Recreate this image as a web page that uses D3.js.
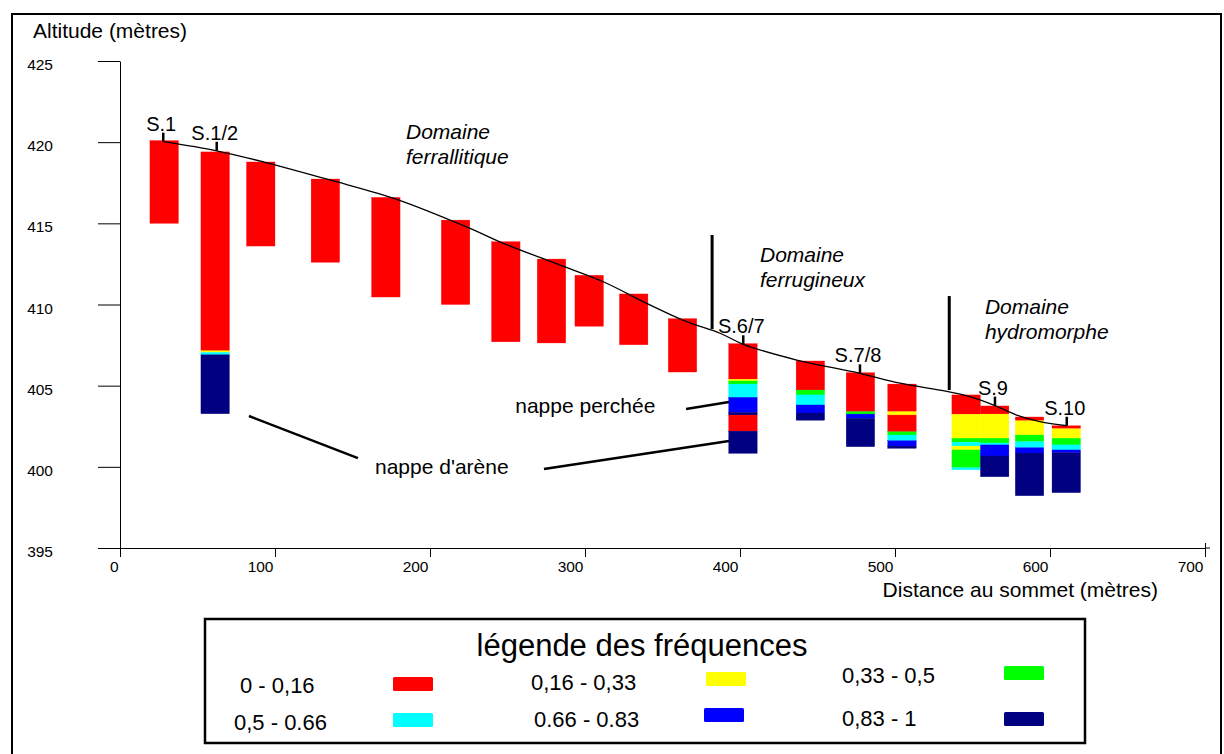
<!DOCTYPE html>
<html><head><meta charset="utf-8">
<script src="https://cdn.jsdelivr.net/npm/d3@7"></script>
<style>body{margin:0;background:#fff}svg{display:block;font-family:"Liberation Sans",Arial,sans-serif}</style>
</head><body><svg id="c" width="1224" height="754"></svg>
<script>
// ---- data ----
const yTicks = [395, 400, 405, 410, 415, 420, 425];
const xTicks = [0, 100, 200, 300, 400, 500, 600, 700];
const freqClasses = ["0 - 0,16", "0,16 - 0,33", "0,33 - 0,5", "0,5 - 0.66", "0.66 - 0.83", "0,83 - 1"];
const freqColors = ["#ff0000", "#ffff00", "#00ff00", "#00ffff", "#0000ff", "#000080"];

const profileDist = [27.9, 62.4, 93.5, 135.5, 178.5, 225.8, 247.3, 283.9, 311.8, 339.8, 365.6, 387.1, 402.1, 436.6, 477.4, 503.2, 529, 548.4, 564.5, 578.5, 593.5, 610.8];
const profileAlt  = [420.03, 419.47, 418.76, 417.67, 416.48, 414.69, 413.77, 412.43, 411.40, 410.07, 408.94, 408.23, 407.55, 406.58, 405.76, 405.15, 404.73, 404.32, 403.77, 403.19, 402.78, 402.53];

const colDist = [28.5, 61.4, 90.8, 132.5, 171.5, 216.5, 248.9, 278.4, 302.7, 331.4, 362.9, 401.9, 445.4, 477.7, 504.5, 545.9, 564.3, 586.8, 610.5];
const colTop  = [420.1, 419.4, 418.78, 417.73, 416.6, 415.2, 413.87, 412.8, 411.8, 410.65, 409.13, 407.59, 406.52, 405.8, 405.1, 404.43, 403.75, 403.07, 402.53];
// each layer: [frequency class index, bottom altitude]
const colLayers = [
  [[0, 415.0]],
  [[0, 407.15], [1, 407.05], [3, 406.9], [5, 403.27]],
  [[0, 413.6]],
  [[0, 412.6]],
  [[0, 410.46]],
  [[0, 410.0]],
  [[0, 407.7]],
  [[0, 407.63]],
  [[0, 408.66]],
  [[0, 407.52]],
  [[0, 405.84]],
  [[0, 405.39], [1, 405.29], [2, 405.1], [3, 404.28], [4, 403.36], [5, 403.19], [0, 402.2], [5, 400.83]],
  [[0, 404.73], [2, 404.43], [3, 403.81], [4, 403.32], [5, 402.87]],
  [[0, 403.4], [2, 403.25], [4, 402.99], [5, 401.24]],
  [[0, 403.4], [1, 403.19], [0, 402.16], [2, 401.96], [3, 401.61], [4, 401.28], [5, 401.14]],
  [[0, 403.24], [1, 401.76], [2, 401.51], [3, 401.28], [1, 401.04], [2, 399.95], [3, 399.82]],
  [[0, 403.25], [1, 401.76], [2, 401.47], [3, 401.35], [4, 400.67], [5, 399.39]],
  [[0, 402.84], [1, 401.96], [2, 401.55], [3, 401.18], [4, 400.85], [5, 398.22]],
  [[0, 402.35], [1, 401.76], [2, 401.35], [3, 401.04], [4, 400.87], [5, 398.41]]
];

const siteNames = ["S.1", "S.1/2", "S.6/7", "S.7/8", "S.9", "S.10"];
const siteDist  = [27.9, 62.4, 402.1, 477.4, 564.5, 610.8];
const siteAlt   = [420.03, 419.47, 407.55, 405.76, 403.77, 402.53];

const domainLines = [["Domaine", "ferrallitique"], ["Domaine", "ferrugineux"], ["Domaine", "hydromorphe"]];
const domainDist  = [184.5, 412.9, 558];
const domainAlt   = [420.2, 412.62, 409.42];
const boundaryDist   = [382, 535];
const boundaryTop    = [414.28, 410.52];
const boundaryBottom = [408.49, 404.73];

const nappeLabels = ["nappe perchée", "nappe d'arène"];
const nappeLabelDist = [255, 164.5];
const nappeLabelAlt  = [403.32, 399.56];
const nappeSegments = [
  [[365.2, 403.56], [392.9, 404.0]],
  [[83.2, 403.13], [153.5, 400.54]],
  [[273.5, 399.87], [392.9, 401.59]]
];

// ---- drawing ----
const svg = d3.select("#c");
const x = d3.scaleLinear().domain([0, 700]).range([120, 1205]);
const y = d3.scaleLinear().domain([395, 425]).range([548, 61]);
const barW = 28.5;

// outer frame
svg.append("rect").attr("x", 12).attr("y", 14).attr("width", 1209).attr("height", 760)
  .attr("fill", "none").attr("stroke", "#000").attr("stroke-width", 2);

// axes
const gy = svg.append("g").attr("transform", `translate(${x(0)},0)`)
  .call(d3.axisLeft(y).tickValues(yTicks).tickSize(22).tickSizeOuter(0).tickPadding(45).tickFormat(d3.format("d")));
gy.selectAll("text").attr("font-size", 15.5).attr("font-family", "Liberation Sans, Arial").attr("fill", "#000").attr("dy", "0.55em");
gy.selectAll("line,path").attr("stroke", "#000");

const gx = svg.append("g").attr("transform", `translate(0,${y(395)})`)
  .call(d3.axisBottom(x).tickValues(xTicks).tickSize(9).tickSizeOuter(0).tickFormat(d3.format("d")));
gx.selectAll("text").attr("font-size", 15.5).attr("font-family", "Liberation Sans, Arial").attr("fill", "#000")
  .attr("text-anchor", "end").attr("x", -2).attr("y", 13);
gx.selectAll("line,path").attr("stroke", "#000");
gx.append("line").attr("x1", x(700)).attr("x2", x(700) + 5).attr("stroke", "#000");
gx.select(".tick:last-of-type line").attr("y1", -5);

svg.append("text").attr("x", 33).attr("y", 38).attr("font-size", 21).text("Altitude (mètres)");
svg.append("text").attr("x", 1158).attr("y", 597).attr("font-size", 21).attr("text-anchor", "end").text("Distance au sommet (mètres)");

// columns
colLayers.forEach((layers, i) => {
  let top = colTop[i];
  const g = svg.append("g");
  layers.forEach(([cls, bottom]) => {
    g.append("rect")
      .attr("x", x(colDist[i]) - barW / 2)
      .attr("y", y(top))
      .attr("width", barW)
      .attr("height", y(bottom) - y(top))
      .attr("fill", freqColors[cls])
      .attr("stroke", freqColors[cls]).attr("stroke-width", 0.3);
    top = bottom;
  });
});

// profile line
const profile = profileDist.map((d, i) => [d, profileAlt[i]]);
svg.append("path").datum(profile)
  .attr("d", d3.line().x(d => x(d[0])).y(d => y(d[1])).curve(d3.curveCatmullRom))
  .attr("fill", "none").attr("stroke", "#000").attr("stroke-width", 1.3);

// site markers
siteNames.forEach((s, i) => {
  const sx = x(siteDist[i]), sy = y(siteAlt[i]);
  svg.append("line").attr("x1", sx).attr("x2", sx).attr("y1", sy).attr("y2", sy - 9)
    .attr("stroke", "#000").attr("stroke-width", 2.5);
  svg.append("text").attr("x", sx - 2).attr("y", sy - 11).attr("text-anchor", "middle")
    .attr("font-size", 20).text(s);
});

// domain boundaries
boundaryDist.forEach((d, i) => {
  svg.append("line").attr("x1", x(d)).attr("x2", x(d)).attr("y1", y(boundaryTop[i])).attr("y2", y(boundaryBottom[i]))
    .attr("stroke", "#000").attr("stroke-width", 3);
});
domainLines.forEach((lines, i) => {
  const t = svg.append("text").attr("x", x(domainDist[i])).attr("y", y(domainAlt[i]))
    .attr("font-size", 21).attr("font-style", "italic");
  lines.forEach((l, j) => t.append("tspan").attr("x", x(domainDist[i])).attr("dy", j ? 25 : 0).text(l));
});

// nappes
nappeSegments.forEach(seg => {
  svg.append("line").attr("x1", x(seg[0][0])).attr("y1", y(seg[0][1]))
    .attr("x2", x(seg[1][0])).attr("y2", y(seg[1][1]))
    .attr("stroke", "#000").attr("stroke-width", 2.5);
});
svg.append("text").attr("x", x(nappeLabelDist[0])).attr("y", y(nappeLabelAlt[0]))
  .attr("font-size", 21).text(nappeLabels[0]);
svg.append("text").attr("x", x(nappeLabelDist[1])).attr("y", y(nappeLabelAlt[1]))
  .attr("font-size", 21).text(nappeLabels[1]);

// legend
const lg = svg.append("g");
lg.append("rect").attr("x", 205).attr("y", 619).attr("width", 880).attr("height", 124)
  .attr("fill", "#fff").attr("stroke", "#000").attr("stroke-width", 2.5);
lg.append("text").attr("x", 642).attr("y", 656).attr("text-anchor", "middle").attr("font-size", 31)
  .text("légende des fréquences");
const legTextX = [240, 531, 842, 234, 534, 842];
const legTextY = [693, 690, 683, 730, 727, 726];
const legSwX = [393, 706, 1004, 393, 704, 1004];
const legSwY = [677, 672, 666, 713, 708, 712];
freqClasses.forEach((c, i) => {
  lg.append("text").attr("x", legTextX[i]).attr("y", legTextY[i]).attr("font-size", 22).text(c);
  lg.append("rect").attr("x", legSwX[i]).attr("y", legSwY[i]).attr("width", 40).attr("height", 14)
    .attr("rx", 1.5).attr("fill", freqColors[i]);
});
</script></body></html>
